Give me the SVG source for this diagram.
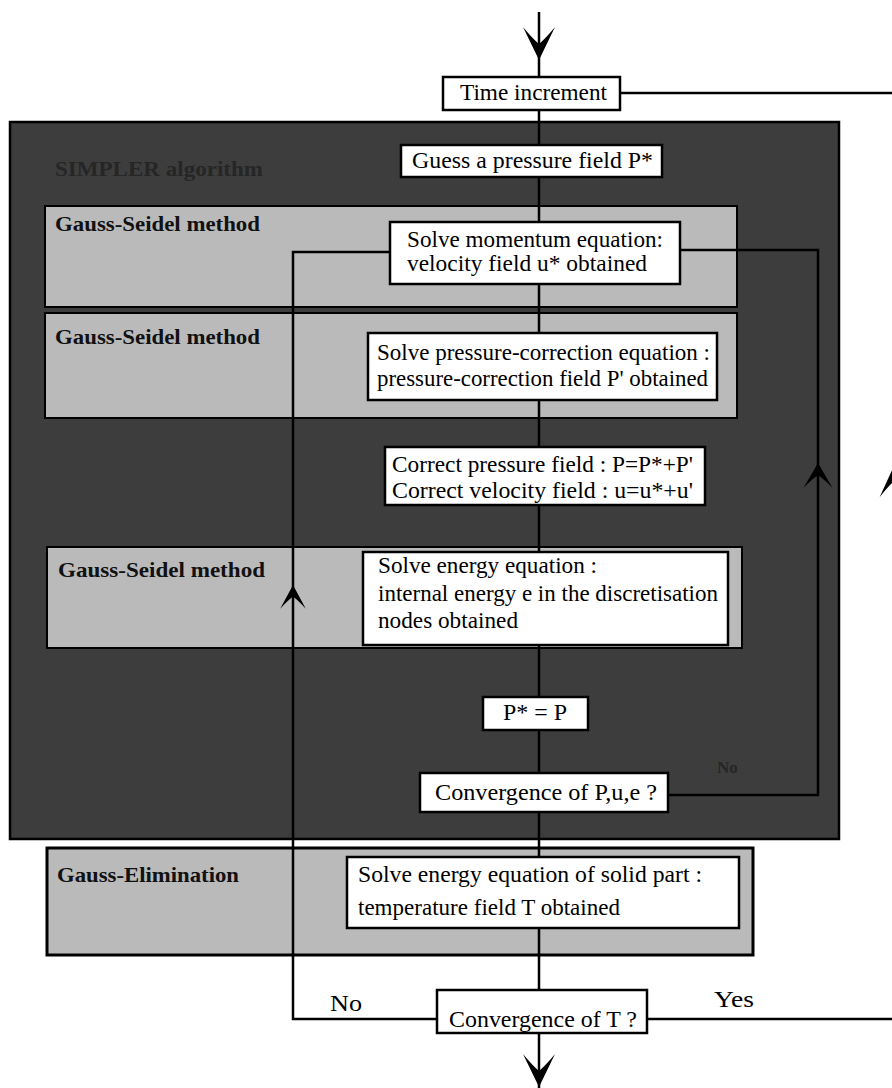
<svg xmlns="http://www.w3.org/2000/svg" width="892" height="1088" viewBox="0 0 892 1088">
<style>
.bg{fill:#ffffff}
.dark{fill:#3d3d3d;stroke:#000;stroke-width:2.5}
.light{fill:#bababa;stroke:#000;stroke-width:2}
.node{fill:#ffffff;stroke:#000;stroke-width:2.5}
.conn{fill:none;stroke:#000;stroke-width:2.5}
.t{font-family:"Liberation Serif","Times New Roman",serif;font-size:23px;fill:#000}
.lab{font-family:"Liberation Serif","Times New Roman",serif;font-size:21px;font-weight:bold;fill:#111}
.dlab{font-family:"Liberation Serif","Times New Roman",serif;font-size:21px;font-weight:bold;fill:#262626}
</style>
<defs>
<path id="ah" d="M0,0 L-16,-33 Q-7,-22 0,-16 Q7,-22 16,-33 Z" fill="#000"/>
</defs>
<rect class="bg" x="0" y="0" width="892" height="1088"/>

<g id="simpler-region">
<rect class="dark" x="10" y="122" width="829" height="717"/>
<text class="dlab" x="55" y="176" textLength="208" lengthAdjust="spacingAndGlyphs">SIMPLER algorithm</text>
</g>
<g id="gs-region-1">
<rect class="light" x="45" y="206" width="692" height="101"/>
<text class="lab" x="55" y="231" textLength="205" lengthAdjust="spacingAndGlyphs">Gauss-Seidel method</text>
</g>
<g id="gs-region-2">
<rect class="light" x="45" y="313" width="692" height="105"/>
<text class="lab" x="55" y="344" textLength="205" lengthAdjust="spacingAndGlyphs">Gauss-Seidel method</text>
</g>
<g id="gs-region-3">
<rect class="light" x="47" y="547" width="695" height="101"/>
<text class="lab" x="58" y="577" textLength="207" lengthAdjust="spacingAndGlyphs">Gauss-Seidel method</text>
</g>
<g id="ge-region">
<rect class="light" x="47" y="848" width="706" height="107" style="stroke-width:3"/>
<text class="lab" x="57" y="882" textLength="182" lengthAdjust="spacingAndGlyphs">Gauss-Elimination</text>
</g>

<g id="connectors">
<path class="conn" d="M539,12 V990"/>
<path class="conn" d="M539,1033 V1088"/>
<path class="conn" d="M620,93 H892"/>
<path class="conn" d="M647,1019 H892"/>
<path class="conn" d="M437,1019 H293 V252 H390"/>
<path class="conn" d="M668,795 H818 V250 H680"/>
<use href="#ah" transform="translate(539,60)"/>
<use href="#ah" transform="translate(539,1087)"/>
<use href="#ah" transform="translate(293,585) rotate(180) scale(0.8,0.72)"/>
<use href="#ah" transform="translate(818,463) rotate(180) scale(0.9,0.75)"/>
<use href="#ah" transform="translate(894,466) rotate(180) scale(0.9,0.95)"/>
<text class="t" x="330" y="1011" textLength="32" lengthAdjust="spacingAndGlyphs">No</text>
<text class="t" x="714" y="1007" textLength="40" lengthAdjust="spacingAndGlyphs">Yes</text>
<text class="dlab" x="717" y="773" style="font-size:17px;fill:#252525">No</text>
</g>

<g id="time-increment">
<rect class="node" x="443" y="77" width="177" height="33"/>
<text class="t" x="460" y="100" textLength="147" lengthAdjust="spacingAndGlyphs">Time increment</text>
</g>
<g id="guess-pressure">
<rect class="node" x="401" y="145" width="261" height="32"/>
<text class="t" x="412" y="168" textLength="241" lengthAdjust="spacingAndGlyphs">Guess a pressure field  P*</text>
</g>
<g id="solve-momentum">
<rect class="node" x="390" y="222" width="290" height="62"/>
<text class="t" x="407" y="247" textLength="256" lengthAdjust="spacingAndGlyphs">Solve momentum equation:</text>
<text class="t" x="407" y="271" textLength="240" lengthAdjust="spacingAndGlyphs">velocity field u* obtained</text>
</g>
<g id="solve-pressure-correction">
<rect class="node" x="368" y="333" width="349" height="67"/>
<text class="t" x="377" y="360" textLength="333" lengthAdjust="spacingAndGlyphs">Solve pressure-correction equation :</text>
<text class="t" x="377" y="386" textLength="331" lengthAdjust="spacingAndGlyphs">pressure-correction field P' obtained</text>
</g>
<g id="correct-fields">
<rect class="node" x="385" y="447" width="320" height="58"/>
<text class="t" x="392" y="472" textLength="301" lengthAdjust="spacingAndGlyphs">Correct pressure field : P=P*+P'</text>
<text class="t" x="392" y="498" textLength="301" lengthAdjust="spacingAndGlyphs">Correct velocity field :  u=u*+u'</text>
</g>
<g id="solve-energy">
<rect class="node" x="363" y="552" width="365" height="93"/>
<text class="t" x="378" y="573" textLength="219" lengthAdjust="spacingAndGlyphs">Solve energy equation :</text>
<text class="t" x="378" y="601" textLength="340" lengthAdjust="spacingAndGlyphs">internal energy e in the discretisation</text>
<text class="t" x="378" y="628" textLength="140" lengthAdjust="spacingAndGlyphs">nodes obtained</text>
</g>
<g id="p-star-equals-p">
<rect class="node" x="483" y="697" width="105" height="33"/>
<text class="t" x="503" y="720" textLength="64" lengthAdjust="spacingAndGlyphs">P* = P</text>
</g>
<g id="convergence-pue">
<rect class="node" x="420" y="773" width="248" height="39"/>
<text class="t" x="435" y="800" textLength="222" lengthAdjust="spacingAndGlyphs">Convergence of P,u,e  ?</text>
</g>
<g id="solve-energy-solid">
<rect class="node" x="347" y="857" width="392" height="71"/>
<text class="t" x="358" y="882" textLength="344" lengthAdjust="spacingAndGlyphs">Solve energy equation of solid part :</text>
<text class="t" x="358" y="915" textLength="262" lengthAdjust="spacingAndGlyphs">temperature field T obtained</text>
</g>
<g id="convergence-t">
<rect class="node" x="437" y="990" width="210" height="43"/>
<text class="t" x="449" y="1027" textLength="188" lengthAdjust="spacingAndGlyphs">Convergence of T  ?</text>
</g>
</svg>
